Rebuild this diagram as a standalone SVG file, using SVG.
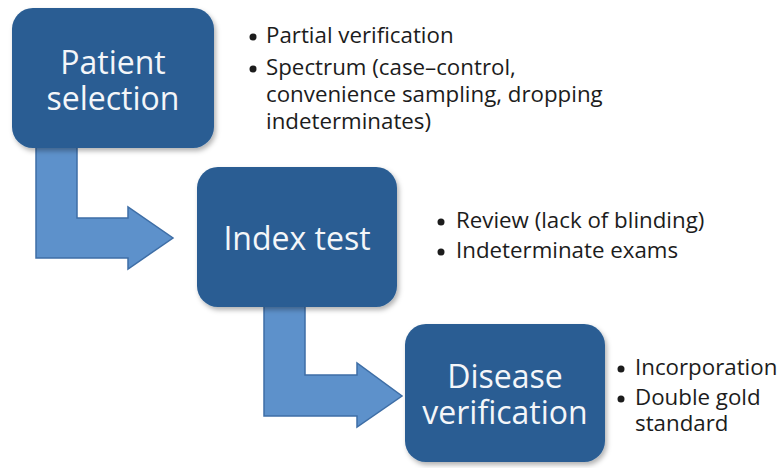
<svg xmlns="http://www.w3.org/2000/svg" width="784" height="468" viewBox="0 0 784 468">
  <defs>
    <filter id="sh" x="-10%" y="-10%" width="125%" height="125%">
      <feDropShadow dx="2" dy="3" stdDeviation="2.5" flood-color="#000" flood-opacity="0.3"/>
    </filter>
  </defs>
  <style>
    .box { fill: #295d93; filter: url(#sh); }
    .arrow { fill: #5d91cb; stroke: #3e6ea6; stroke-width: 1.5; stroke-linejoin: miter; }
    .lbl { font-family: "Open Sans", "Noto Sans", sans-serif; font-size: 32px; fill: #f4f6f9; text-anchor: middle; }
    .bt { font-family: "Open Sans", "Noto Sans", sans-serif; font-size: 22.3px; fill: #1c1c1c; }
    .dot { fill: #1c1c1c; }
  </style>
  <rect width="784" height="468" fill="#ffffff"/>
  <g id="connectors">
    <path class="arrow" d="M36,140 L77,140 L77,218 L128,218 L128,207 L173,238 L128,269 L128,258 L36,258 Z"/>
    <path class="arrow" d="M264,300 L305,300 L305,375 L357,375 L357,363 L402,396 L357,427 L357,416 L264,416 Z"/>
  </g>
  <g id="patient-selection">
    <rect class="box" x="12" y="8" width="202" height="140" rx="21"/>
    <text class="lbl" x="113" y="74">Patient</text>
    <text class="lbl" x="113" y="110">selection</text>
  </g>
  <g id="index-test">
    <rect class="box" x="197" y="167" width="200" height="140" rx="21"/>
    <text class="lbl" x="297" y="250" font-size="31">Index test</text>
  </g>
  <g id="disease-verification">
    <rect class="box" x="405" y="324" width="200" height="138" rx="21"/>
    <text class="lbl" x="505" y="388">Disease</text>
    <text class="lbl" x="505" y="424">verification</text>
  </g>
  <g id="notes-patient">
    <circle class="dot" cx="253" cy="37" r="3.5"/>
    <text class="bt" x="266" y="43">Partial verification</text>
    <circle class="dot" cx="253" cy="69" r="3.5"/>
    <text class="bt" x="266" y="75">Spectrum (case–control,</text>
    <text class="bt" x="266" y="102">convenience sampling, dropping</text>
    <text class="bt" x="266" y="129">indeterminates)</text>
  </g>
  <g id="notes-index">
    <circle class="dot" cx="441" cy="222" r="3.5"/>
    <text class="bt" x="456" y="228">Review (lack of blinding)</text>
    <circle class="dot" cx="441" cy="252" r="3.5"/>
    <text class="bt" x="456" y="258">Indeterminate exams</text>
  </g>
  <g id="notes-disease">
    <circle class="dot" cx="621" cy="369" r="3.5"/>
    <text class="bt" x="635" y="375">Incorporation</text>
    <circle class="dot" cx="621" cy="399" r="3.5"/>
    <text class="bt" x="635" y="405">Double gold</text>
    <text class="bt" x="635" y="431">standard</text>
  </g>
</svg>
